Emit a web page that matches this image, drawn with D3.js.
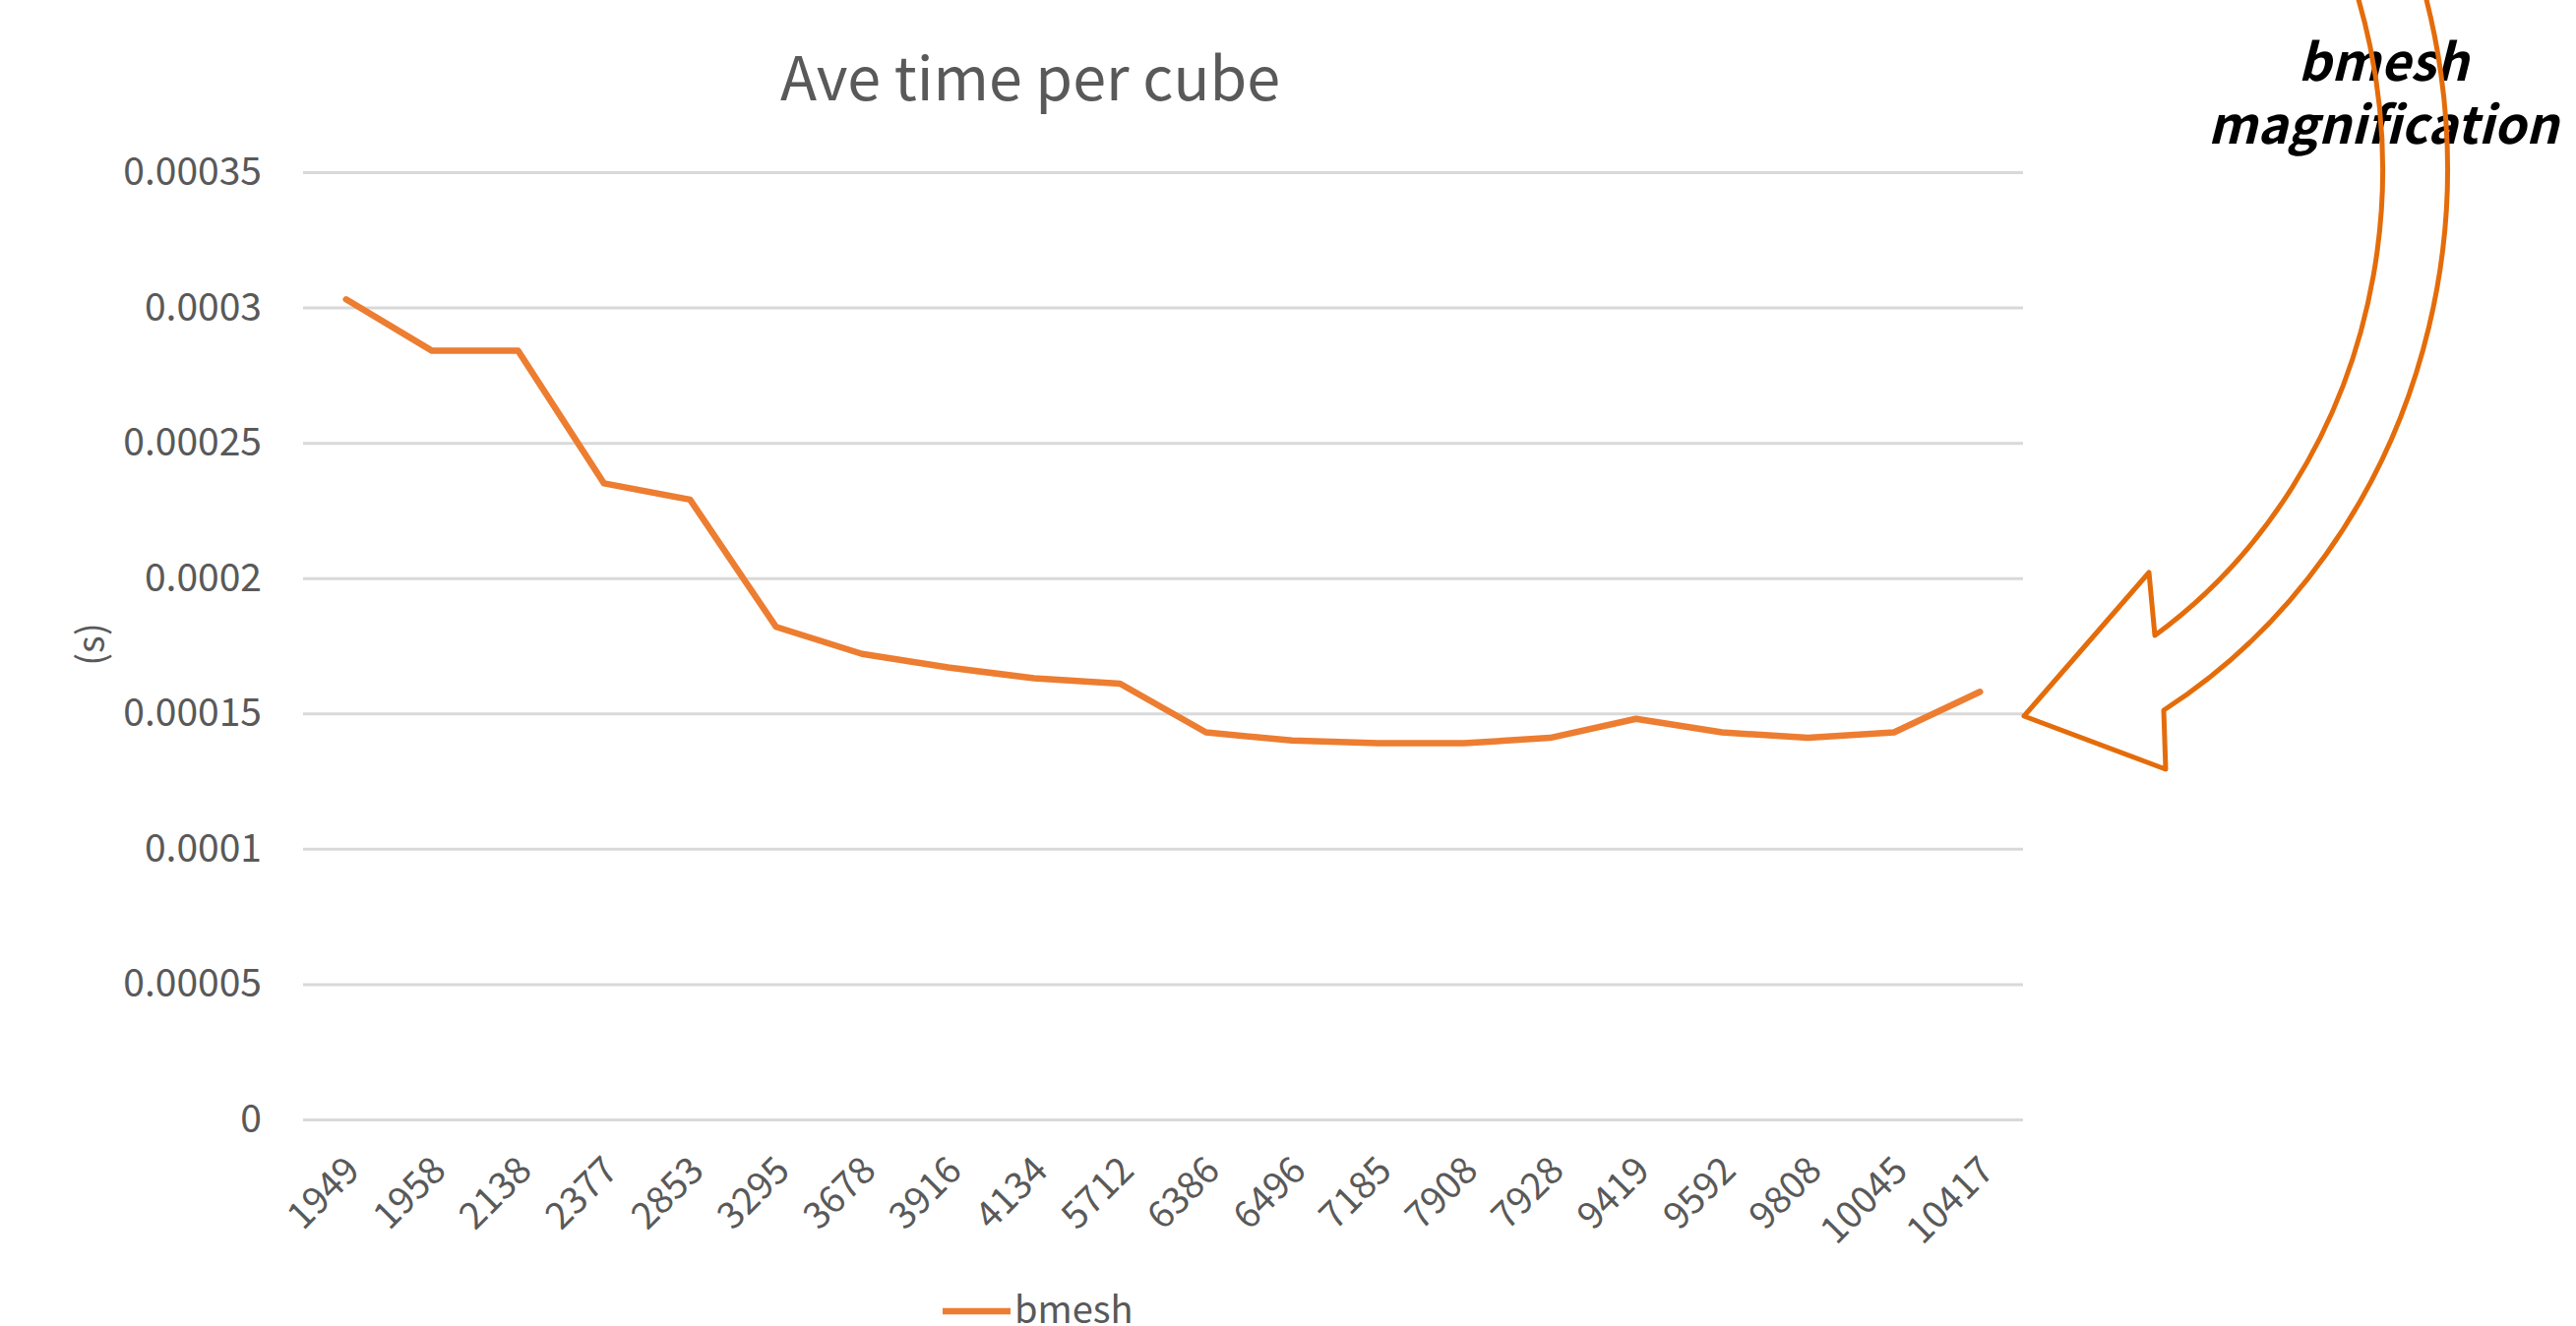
<!DOCTYPE html>
<html>
<head>
<meta charset="utf-8">
<script src="https://cdn.jsdelivr.net/npm/d3@7"></script>
<style>
  html, body { margin: 0; padding: 0; background: #ffffff; }
  svg { display: block; }
</style>
</head>
<body>
<script>
// Cube counts along the x axis
const categories = ["1949", "1958", "2138", "2377", "2853", "3295", "3678", "3916", "4134", "5712",
                    "6386", "6496", "7185", "7908", "7928", "9419", "9592", "9808", "10045", "10417"];
// Average time per cube, seconds
const bmeshValues = [0.000303, 0.000284, 0.000284, 0.000235, 0.000229, 0.000182, 0.000172, 0.000167, 0.000163, 0.000161,
                     0.000143, 0.000140, 0.000139, 0.000139, 0.000141, 0.000148, 0.000143, 0.000141, 0.000143, 0.000158];
const seriesName = "bmesh";
const yTicks = [0, 0.00005, 0.0001, 0.00015, 0.0002, 0.00025, 0.0003, 0.00035];
const yTickLabels = ["0", "0.00005", "0.0001", "0.00015", "0.0002", "0.00025", "0.0003", "0.00035"];
const titleText = "Ave time per cube";
const yTitle = "(s)";
const noteLines = ["bmesh", "magnification"];

const W = 2618, H = 1348;
const FONT = "'Noto Sans CJK KR', 'Noto Sans', sans-serif";
const TEXT_GRAY = "#595959";
const plot = { left: 308, right: 2056, top: 175, bottom: 1138 };

const svg = d3.select("body").append("svg")
  .attr("width", W).attr("height", H)
  .style("overflow", "hidden");

const x = d3.scaleBand().domain(categories).range([plot.left, plot.right]).padding(0);
const y = d3.scaleLinear().domain([0, 0.00035]).range([plot.bottom, plot.top]);

// Title
svg.append("text")
  .attr("x", 1047).attr("y", 102)
  .attr("text-anchor", "middle")
  .attr("font-family", FONT).attr("font-size", 61)
  .attr("fill", TEXT_GRAY)
  .text(titleText);

// Horizontal gridlines + y tick labels via axis
const yAxis = d3.axisLeft(y)
  .tickValues(yTicks)
  .tickFormat((d, i) => yTickLabels[i])
  .tickSize(-(plot.right - plot.left))
  .tickPadding(42);
const gy = svg.append("g").attr("transform", `translate(${plot.left},0)`).call(yAxis);
gy.select(".domain").remove();
gy.selectAll(".tick line").attr("stroke", "#d9d9d9").attr("stroke-width", 3);
gy.selectAll(".tick text")
  .attr("font-family", FONT).attr("font-size", 39)
  .attr("fill", TEXT_GRAY);

// Y axis title
svg.append("text")
  .attr("transform", "translate(106,655) rotate(-90)")
  .attr("text-anchor", "middle")
  .attr("font-family", FONT).attr("font-size", 38)
  .attr("fill", TEXT_GRAY)
  .text(yTitle);

// X axis labels, rotated
const xAxis = d3.axisBottom(x).tickSize(0).tickPadding(0);
const gx = svg.append("g").attr("transform", `translate(0,${plot.bottom})`).call(xAxis);
gx.select(".domain").remove();
gx.selectAll(".tick text")
  .attr("font-family", FONT).attr("font-size", 38)
  .attr("fill", TEXT_GRAY)
  .attr("text-anchor", "end")
  .attr("dy", 0)
  .attr("transform", "translate(16,54) rotate(-45)");

// Series line
const line = d3.line()
  .x((d, i) => x(categories[i]) + x.bandwidth() / 2)
  .y(d => y(d));
svg.append("path")
  .datum(bmeshValues)
  .attr("d", line)
  .attr("fill", "none")
  .attr("stroke", "#ED7D31")
  .attr("stroke-width", 6.5)
  .attr("stroke-linejoin", "round")
  .attr("stroke-linecap", "round");

// Legend
const legend = svg.append("g").attr("transform", "translate(958,1333)");
legend.append("line")
  .attr("x1", 0).attr("x2", 69).attr("y1", 0).attr("y2", 0)
  .attr("stroke", "#ED7D31").attr("stroke-width", 6.5);
legend.append("text")
  .attr("x", 73).attr("y", 12)
  .attr("font-family", FONT).attr("font-size", 38)
  .attr("fill", TEXT_GRAY)
  .text(seriesName);

// Callout text
const note = svg.append("text")
  .attr("text-anchor", "middle")
  .attr("font-family", FONT).attr("font-size", 52)
  .attr("font-weight", 700).attr("font-style", "italic")
  .attr("fill", "#000000");
note.selectAll("tspan").data(noteLines).join("tspan")
  .attr("x", 2422)
  .attr("y", (d, i) => 82 + i * 64)
  .text(d => d);

// Curved block arrow pointing at the right end of the series
const arrow = {
  innerRx: 522, innerRy: 570, outerRx: 588, outerRy: 640,
  innerEnd: [2190, 646], innerTop: [2330, -150],
  outerTop: [2408, -150], outerJoin: [2199, 722],
  barbLow: [2201, 782], tip: [2057, 728], barbHigh: [2184, 582]
};
const a = arrow;
const arrowPath =
  `M${a.innerEnd}` +
  `A${a.innerRx},${a.innerRy} 0 0 0 ${a.innerTop}` +
  `L${a.outerTop}` +
  `A${a.outerRx},${a.outerRy} 0 0 1 ${a.outerJoin}` +
  `L${a.barbLow}L${a.tip}L${a.barbHigh}Z`;
svg.append("path")
  .attr("d", arrowPath)
  .attr("fill", "none")
  .attr("stroke", "#E46C0A")
  .attr("stroke-width", 5)
  .attr("stroke-linejoin", "round");
</script>
</body>
</html>
